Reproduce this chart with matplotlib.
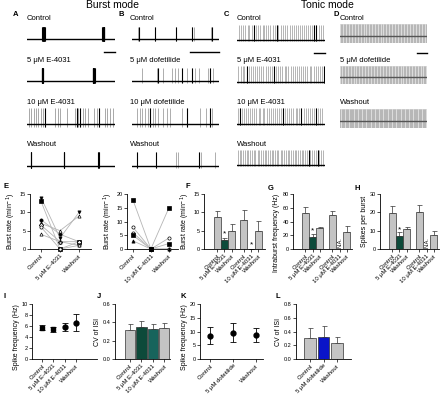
import numpy as np
import matplotlib
matplotlib.use('Agg')
from matplotlib import pyplot as plt
from matplotlib.lines import Line2D

plt.rcParams['font.family'] = ['Liberation Sans', 'DejaVu Sans']

# ---- trace data: spike times (fraction of sweep) ----
a_ctrl = [0.175, 0.18, 0.185, 0.19, 0.195, 0.2, 0.855, 0.86, 0.865, 0.87, 0.875, 0.88]
a_5 = [0.165, 0.17, 0.175, 0.18, 0.185, 0.745, 0.75, 0.755, 0.76, 0.765, 0.77]
a_10 = [0.02, 0.045, 0.075, 0.105, 0.13, 0.16, 0.18, 0.21, 0.32, 0.35, 0.38, 0.45, 0.55, 0.57,
        0.585, 0.6, 0.635, 0.66, 0.69, 0.76, 0.79, 0.82, 0.89, 0.91, 0.94, 0.98]
a_10_dark = [0.21, 0.57, 0.6, 0.82]
a_wash = [0.04, 0.045, 0.42, 0.425, 0.81, 0.815]

b_ctrl = [0.07, 0.076, 0.265, 0.27, 0.5, 0.505, 0.69, 0.695, 0.71, 0.91, 0.915]
b_ctrl_dark = [0.076, 0.27, 0.505, 0.695, 0.915]
b_5 = [0.114, 0.285, 0.304, 0.36, 0.456, 0.494, 0.532, 0.57, 0.627, 0.684, 0.72, 0.768,
       0.875, 0.9, 0.93]
b_5_dark = [0.304, 0.57, 0.684, 0.9]
b_10 = [0.057, 0.087, 0.114, 0.152, 0.179, 0.209, 0.24, 0.266, 0.304, 0.36, 0.4, 0.437,
        0.57, 0.627, 0.78, 0.855, 0.894, 0.924]
b_10_dark = [0.209, 0.627, 0.894]
b_wash = [0.057, 0.274, 0.506, 0.532, 0.772, 0.798, 0.95]
b_wash_dark = [0.057, 0.274, 0.772]

c_ctrl = [0.02, 0.05, 0.07, 0.095, 0.12, 0.14, 0.17, 0.19, 0.215, 0.24, 0.26, 0.29, 0.31, 0.335,
          0.355, 0.38, 0.41, 0.43, 0.455, 0.47, 0.5, 0.525, 0.545, 0.57, 0.6, 0.62, 0.645, 0.665,
          0.69, 0.715, 0.74, 0.76, 0.785, 0.81, 0.835, 0.855, 0.88, 0.9, 0.93, 0.95, 0.975]
c_ctrl_dark = [0.19, 0.455, 0.88, 0.9]
c_5 = [0.015, 0.04, 0.065, 0.085, 0.11, 0.135, 0.16, 0.18, 0.205, 0.23, 0.255, 0.275, 0.3, 0.325,
       0.35, 0.37, 0.395, 0.42, 0.445, 0.465, 0.49, 0.515, 0.54, 0.56, 0.585, 0.61, 0.635, 0.655,
       0.68, 0.705, 0.73, 0.75, 0.775, 0.8, 0.825, 0.845, 0.87, 0.895, 0.92, 0.94, 0.965, 0.99]
c_5_dark = [0.11, 0.42, 0.99]
c_10 = [0.01, 0.03, 0.06, 0.08, 0.105, 0.125, 0.15, 0.175, 0.195, 0.22, 0.245, 0.265, 0.29, 0.31,
        0.34, 0.36, 0.385, 0.405, 0.43, 0.455, 0.475, 0.5, 0.52, 0.55, 0.57, 0.595, 0.615, 0.64,
        0.665, 0.685, 0.71, 0.73, 0.76, 0.78, 0.805, 0.825, 0.85, 0.875, 0.895, 0.92, 0.94, 0.97]
c_10_dark = [0.03, 0.52, 0.73, 0.895]
c_wash = [0.01, 0.03, 0.05, 0.07, 0.09, 0.11, 0.13, 0.15, 0.175, 0.19, 0.21, 0.235, 0.255, 0.27,
          0.29, 0.315, 0.335, 0.35, 0.375, 0.395, 0.41, 0.435, 0.455, 0.47, 0.495, 0.515, 0.535,
          0.555, 0.575, 0.595, 0.615, 0.635, 0.655, 0.675, 0.695, 0.715, 0.735, 0.755, 0.775,
          0.795, 0.815, 0.835, 0.855, 0.875, 0.895, 0.915, 0.935, 0.955, 0.975]
c_wash_dark = [0.815, 0.915]

d_ctrl = [0.01, 0.025, 0.045, 0.06, 0.08, 0.095, 0.115, 0.13, 0.15, 0.165, 0.185, 0.2, 0.22, 0.235,
          0.255, 0.27, 0.29, 0.305, 0.325, 0.34, 0.36, 0.375, 0.395, 0.41, 0.43, 0.445, 0.465,
          0.48, 0.5, 0.515, 0.535, 0.55, 0.57, 0.585, 0.605, 0.62, 0.64, 0.655, 0.675, 0.69, 0.71,
          0.725, 0.745, 0.76, 0.78, 0.795, 0.815, 0.83, 0.85, 0.865, 0.885, 0.9, 0.92, 0.935, 0.955,
          0.97, 0.99]
d_5 = [0.015, 0.03, 0.05, 0.065, 0.085, 0.1, 0.12, 0.135, 0.155, 0.17, 0.19, 0.205, 0.225, 0.24,
       0.26, 0.275, 0.295, 0.31, 0.33, 0.345, 0.365, 0.38, 0.4, 0.415, 0.435, 0.45, 0.47, 0.485,
       0.505, 0.52, 0.54, 0.555, 0.575, 0.59, 0.61, 0.625, 0.645, 0.66, 0.68, 0.695, 0.715, 0.73,
       0.75, 0.765, 0.785, 0.8, 0.82, 0.835, 0.855, 0.87, 0.89, 0.905, 0.925, 0.94, 0.96, 0.975]
d_wash = [0.005, 0.02, 0.035, 0.05, 0.065, 0.08, 0.095, 0.11, 0.125, 0.14, 0.155, 0.17, 0.185, 0.2,
          0.215, 0.23, 0.245, 0.26, 0.275, 0.29, 0.305, 0.32, 0.335, 0.35, 0.365, 0.38, 0.395,
          0.41, 0.425, 0.44, 0.455, 0.47, 0.485, 0.5, 0.515, 0.53, 0.545, 0.56, 0.575, 0.59, 0.605,
          0.62, 0.635, 0.65, 0.665, 0.68, 0.695, 0.71, 0.725, 0.74, 0.755, 0.77, 0.785, 0.8, 0.815,
          0.83, 0.845, 0.86, 0.875, 0.89, 0.905, 0.92, 0.935, 0.95, 0.965, 0.98, 0.995]

# ---- summary data ----
e1_labels = ['Control', '5 μM E-4031', 'Washout']
e1_cells = [[14, 3, 10], [13, 0, 2], [8, 4, 2], [7, 5, 9], [6.5, 2, 2], [6, 0, 1], [4, 2, 1]]
e1_marks = ['v', 's', 'o', '^', 'D', 'o', '^']
e1_fill = [True, True, True, False, False, False, False]

e2_labels = ['Control', '10 μM E-4031', 'Washout']
e2_cells = [[18, 0, 15], [8, 0, 0], [6, 0, 4], [5, 0, 2], [3, 0, 0]]
e2_marks = ['s', 'o', 'o', 's', '^']
e2_fill = [True, False, False, True, True]

burst_labels = ['Control', '5 μM E-4031', 'Washout', 'Control', '10 μM E-4031', 'Washout']
f_rate = [8.7, 2.4, 4.8, 8.0, 0, 5.0]
f_err = [1.7, 0.7, 2.0, 2.7, 0, 2.7]
g_freq = [53, 17, 30, 50, np.nan, 25]
g_err = [8, 5, 1.5, 5, 0, 9]
h_spikes = [19.5, 7, 11, 20, np.nan, 7.5]
h_err = [4, 2.2, 0.8, 4, 0, 2.5]

i_labels = ['Control', '5 μM E-4031', '10 μM E-4031', 'Washout']
i_freq = [5.7, 5.4, 5.8, 6.6]
i_err = [0.4, 0.4, 0.7, 1.5]
j_cv = [0.32, 0.345, 0.33, 0.34]
j_err = [0.06, 0.065, 0.05, 0.055]

k_labels = ['Control', '5 μM dofetilide', 'Washout']
k_freq = [8.5, 9.6, 8.8]
k_err = [3.2, 3.5, 2.6]
l_cv = [0.31, 0.32, 0.23]
l_err = [0.14, 0.16, 0.09]

GRAY = '#c4c4c4'
DGREEN = '#0d4a3a'
TEAL = '#17645c'
BLUE = '#0a14c8'
EDGE = '#333333'

W, H = 440, 397
fig = plt.figure(figsize=(4.4, 3.97), dpi=100)


def box(x0, y0, x1, y1):
    return [x0 / W, 1 - y1 / H, (x1 - x0) / W, (y1 - y0) / H]


def ftext(x, y, s, **kw):
    fig.text(x / W, 1 - y / H, s, **kw)


def scale_bar(x0, x1, y):
    fig.add_artist(Line2D([x0 / W, x1 / W], [1 - y / H] * 2, color='black', lw=1.0))


def trace(rect, spikes, dark=(), color='#8a8a8a', lo=-0.2, ymin=-0.25, bg=None, base='black'):
    ax = fig.add_axes(box(*rect))
    ax.set_xlim(0, 1)
    ax.set_ylim(ymin, 1.0)
    ax.vlines(spikes, lo, 1.0, color=color, lw=0.6)
    if len(dark):
        ax.vlines(dark, lo, 1.0, color='black', lw=0.8)
    ax.axhline(0, color=base, lw=1.0)
    if bg:
        ax.set_facecolor(bg)
        for s in ax.spines.values():
            s.set_visible(False)
        ax.set_xticks([])
        ax.set_yticks([])
    else:
        ax.axis('off')
    return ax


def style(ax, ymax, yticks, ylabel, fmt=None, loc='center'):
    ax.set_ylim(0, ymax)
    ax.set_yticks(yticks)
    if fmt:
        ax.set_yticklabels([fmt % t for t in yticks])
    for s in ['top', 'right']:
        ax.spines[s].set_visible(False)
    for s in ['left', 'bottom']:
        ax.spines[s].set_linewidth(0.6)
    ax.tick_params(labelsize=4, length=2, width=0.5, pad=1)
    ax.set_ylabel(ylabel, fontsize=5, labelpad=1.5, loc=loc)


def xlabels(ax, pos, labels):
    ax.set_xticks(pos)
    ax.set_xticklabels(labels, rotation=45, ha='right', rotation_mode='anchor', fontsize=4.3)


def bars(ax, pos, vals, errs, cols, width):
    ax.bar(pos, vals, width, color=cols, edgecolor=EDGE, lw=0.5, zorder=2)
    ax.errorbar(pos, vals, yerr=[np.zeros(len(vals)), errs], fmt='none', ecolor=EDGE,
                elinewidth=0.5, capsize=1.8, capthick=0.5, zorder=1)


# ---- titles and panel letters ----
ftext(112, 5, 'Burst mode', fontsize=7.5, ha='center', va='center')
ftext(327, 5, 'Tonic mode', fontsize=7.5, ha='center', va='center')
for letter, x, y in [('A', 13, 15), ('B', 118, 15), ('C', 224, 15), ('D', 333, 15),
                     ('E', 3, 186), ('F', 185, 186), ('G', 268, 189), ('H', 354, 189),
                     ('I', 3, 296), ('J', 97, 297), ('K', 180, 296), ('L', 275, 297)]:
    ftext(x, y, letter, fontsize=5.5, fontweight='bold', ha='left', va='center')

rows_ab = [(27, 42), (68, 84), (108, 128), (152, 169)]
label_y = [19, 61, 103, 145]

a_names = ['Control', '5 μM E-4031', '10 μM E-4031', 'Washout']
a_traces = [(a_ctrl, a_ctrl, 'black'), (a_5, a_5, 'black'), (a_10, a_10_dark, '#9a9a9a'),
            (a_wash, a_wash, 'black')]
for (t, d, c), (y0, y1), ly, name in zip(a_traces, rows_ab, label_y, a_names):
    ftext(27, ly, name, fontsize=5.5, va='center')
    trace((27, y0, 115, y1), t, d, color=c)

b_names = ['Control', '5 μM dofetilide', '10 μM dofetilide', 'Washout']
b_traces = [(b_ctrl, b_ctrl_dark), (b_5, b_5_dark), (b_10, b_10_dark), (b_wash, b_wash_dark)]
for (t, d), (y0, y1), ly, name in zip(b_traces, rows_ab, label_y, b_names):
    ftext(130, ly, name, fontsize=5.5, va='center')
    trace((132, y0, 219, y1), t, d, color='#a0a0a0')

rows_c = [(25, 42), (66, 84), (108, 126), (150, 167)]
c_traces = [(c_ctrl, c_ctrl_dark), (c_5, c_5_dark), (c_10, c_10_dark), (c_wash, c_wash_dark)]
for (t, d), (y0, y1), ly, name in zip(c_traces, rows_c, label_y, a_names):
    ftext(237, ly, name, fontsize=5.5, va='center')
    trace((237, y0, 325, y1), t, d, color='#a8a8a8', lo=-0.1, ymin=-0.15)

rows_d = [(24, 43), (66, 84), (109, 128)]
d_names = ['Control', '5 μM dofetilide', 'Washout']
for t, (y0, y1), ly, name in zip([d_ctrl, d_5, d_wash], rows_d, label_y, d_names):
    ftext(340, ly, name, fontsize=5.5, va='center')
    trace((340, y0, 427, y1), t, (), color='#b0b0b0', lo=-0.6, ymin=-0.6,
          bg='#dcdcdc', base='#555555')

scale_bar(104, 115, 52)
scale_bar(190, 219, 52)
scale_bar(314, 325, 53)
scale_bar(417, 427, 53)

# ---- E: individual burst rates ----
for rect, cells, marks, fills, labels, ymax, yt, xl in [
        ((30, 194, 91, 249), e1_cells, e1_marks, e1_fill, e1_labels, 15, [0, 5, 10, 15], (-0.58, 2.63)),
        ((127, 194, 178, 249), e2_cells, e2_marks, e2_fill, e2_labels, 20, [0, 5, 10, 15, 20], (-0.32, 2.5))]:
    ax = fig.add_axes(box(*rect))
    for vals, m, f in zip(cells, marks, fills):
        ax.plot(range(3), vals, color='#b5b5b5', lw=0.6, zorder=1)
        ax.plot(range(3), vals, ls='none', marker=m, ms=2.3, mew=0.5, mec='black',
                mfc='black' if f else 'white', clip_on=False, zorder=3)
    style(ax, ymax, yt, 'Burst rate (min$^{-1}$)')
    xlabels(ax, range(3), labels)
    ax.set_xlim(*xl)

# ---- F, G, H: burst bar charts ----
bpos = [0, 1, 2, 3.7, 4.7, 5.7]
bcol = [GRAY, DGREEN, GRAY, GRAY, GRAY, GRAY]

ax = fig.add_axes(box(204, 194, 265, 249))
bars(ax, bpos, f_rate, f_err, bcol, 0.95)
style(ax, 15, [0, 5, 10, 15], 'Burst rate (min$^{-1}$)')
xlabels(ax, bpos, burst_labels)
ax.set_xlim(-1.8, 6.6)
ax.text(1, 4.0, '*', ha='center', va='center', fontsize=6)
ax.text(4.7, 1.2, '*', ha='center', va='center', fontsize=6)

ax = fig.add_axes(box(293, 194, 352, 249))
bars(ax, bpos, g_freq, g_err, bcol, 0.95)
style(ax, 80, [0, 20, 40, 60, 80], 'Intraburst frequency (Hz)', loc='top')
xlabels(ax, bpos, burst_labels)
ax.set_xlim(-1.7, 6.4)
ax.text(1, 27, '*', ha='center', va='center', fontsize=6)
ax.text(4.7, 1, 'N.A.', rotation=90, ha='center', va='bottom', fontsize=4)

ax = fig.add_axes(box(380, 194, 439, 249))
bars(ax, bpos, h_spikes, h_err, bcol, 0.95)
style(ax, 30, [0, 10, 20, 30], 'Spikes per burst')
xlabels(ax, bpos, burst_labels)
ax.set_xlim(-1.65, 6.4)
ax.text(1, 10.5, '*', ha='center', va='center', fontsize=6)
ax.text(4.7, 0.4, 'N.A.', rotation=90, ha='center', va='bottom', fontsize=4)

# ---- I: spike frequency (E-4031) ----
ax = fig.add_axes(box(32, 304, 97, 359))
for x, v, e, m in zip(range(4), i_freq, i_err, ['s', 's', 'o', 'o']):
    ax.errorbar(x, v, yerr=e, fmt=m, color='black', ms=3.5, elinewidth=0.6, capsize=2, capthick=0.6)
style(ax, 10, [0, 2, 4, 6, 8, 10], 'Spike frequency (Hz)', loc='top')
xlabels(ax, range(4), i_labels)
ax.set_xlim(-0.9, 4.9)

# ---- J: CV of ISI (E-4031) ----
ax = fig.add_axes(box(115, 304, 170, 359))
bars(ax, range(4), j_cv, j_err, [GRAY, DGREEN, TEAL, GRAY], 0.9)
style(ax, 0.6, [0, 0.2, 0.4, 0.6], 'CV of ISI', fmt='%.1f')
xlabels(ax, range(4), i_labels)
ax.set_xlim(-1.3, 3.5)

# ---- K: spike frequency (dofetilide) ----
ax = fig.add_axes(box(200, 304, 263, 359))
ax.errorbar(range(3), k_freq, yerr=k_err, fmt='o', color='black', ms=3.5, elinewidth=0.6,
            capsize=2, capthick=0.6)
style(ax, 20, [0, 5, 10, 15, 20], 'Spike frequency (Hz)', loc='top')
xlabels(ax, range(3), k_labels)
ax.set_xlim(-0.45, 2.3)

# ---- L: CV of ISI (dofetilide) ----
ax = fig.add_axes(box(296, 304, 351, 359))
bars(ax, range(3), l_cv, l_err, [GRAY, BLUE, GRAY], 0.85)
style(ax, 0.8, [0, 0.2, 0.4, 0.6, 0.8], 'CV of ISI', fmt='%.1f')
xlabels(ax, range(3), k_labels)
ax.set_xlim(-1.05, 3.05)

fig.savefig('out.png', dpi=100)
